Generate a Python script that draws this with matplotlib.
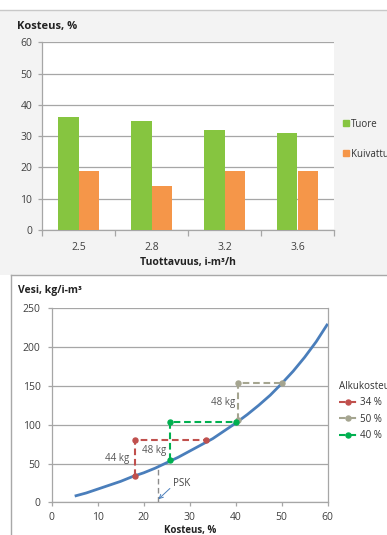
import matplotlib
matplotlib.use("Agg")
import matplotlib.pyplot as plt
from matplotlib.lines import Line2D
from matplotlib.patches import Rectangle

plt.rcParams['font.family'] = ['Open Sans', 'DejaVu Sans']

# ---- data: bar chart (moisture by productivity) ----
categories = ["2.5", "2.8", "3.2", "3.6"]
tuore = [36, 35, 32, 31]
kuivattu = [19, 14, 19, 19]

# ---- data: water content curve ----
curve_x = [5, 7.5, 10, 12.5, 15, 17.5, 20, 22.5, 25, 27.5, 30, 32.5, 35,
           37.5, 40, 42.5, 45, 47.5, 50, 52.5, 55, 57.5, 60]
curve_y = [8, 12, 17, 22, 27, 33, 38, 44, 51, 58, 66, 74, 82,
           92, 102, 113, 125, 138, 153, 169, 187, 207, 230]

# drying steps for each initial moisture
s34_x = [18, 18, 33.5]
s34_y = [34, 80, 80]
s50_x = [40.5, 40.5, 50]
s50_y = [106, 154, 154]
s40_x = [25.8, 25.8, 40]
s40_y = [54, 103, 103]
psk_x = 23
psk_y = 47

W, H = 387, 535
fig = plt.figure(figsize=(W / 100, H / 100), dpi=100)
fig.patch.set_facecolor("white")


def rect(x0, y0, x1, y1):
    return [x0 / W, 1 - y1 / H, (x1 - x0) / W, (y1 - y0) / H]


def fx(px):
    return px / W


def fy(py):
    return 1 - py / H


# panel backgrounds
fig.add_artist(Rectangle((0, fy(275)), 1, fy(10) - fy(275), transform=fig.transFigure,
                         facecolor="#f3f3f3", edgecolor="none", zorder=0))
fig.add_artist(Line2D([0, 1], [fy(10), fy(10)], transform=fig.transFigure,
                      color="#c8c8c8", lw=1.0))
fig.add_artist(Line2D([fx(11), 1], [fy(275), fy(275)], transform=fig.transFigure,
                      color="#a8a8a8", lw=1.0))
fig.add_artist(Line2D([fx(11), fx(11)], [fy(275), 0], transform=fig.transFigure,
                      color="#a8a8a8", lw=1.0))

grid_c = "#a6a6a6"
tick_c = "#404040"
fs = 7.5

# ---------------- top: bar chart ----------------
ax1 = fig.add_axes(rect(42, 42.3, 334, 230))
ax1.set_facecolor("white")
idx = list(range(len(categories)))
bw = 0.28
ax1.bar([i - bw / 2 for i in idx], tuore, width=bw, color="#86c540", zorder=3, label="Tuore")
ax1.bar([i + bw / 2 for i in idx], kuivattu, width=bw, color="#f59649", zorder=3, label="Kuivattu")
ax1.set_xlim(-0.5, 3.5)
ax1.set_ylim(0, 60)
ax1.set_yticks(range(0, 61, 10))
ax1.yaxis.grid(True, color=grid_c, lw=0.9, zorder=0)
ax1.set_xticks([i - 0.5 for i in range(len(categories) + 1)])
ax1.set_xticklabels([""] * (len(categories) + 1))
ax1.set_xticks(idx, minor=True)
ax1.set_xticklabels(categories, minor=True)
ax1.tick_params(axis="x", which="major", length=4, color=grid_c, width=0.9)
ax1.tick_params(axis="x", which="minor", length=0, pad=8.5, labelsize=fs, labelcolor=tick_c)
ax1.tick_params(axis="y", length=3, color=grid_c, width=0.9, labelsize=fs, labelcolor=tick_c, pad=4)
for s in ["top", "right"]:
    ax1.spines[s].set_visible(False)
for s in ["left", "bottom"]:
    ax1.spines[s].set_color(grid_c)
    ax1.spines[s].set_linewidth(0.9)
fig.text(fx(17), fy(26), "Kosteus, %", fontsize=8, fontweight="bold", color="#222222",
         ha="left", va="center")
fig.text(fx(188), fy(262), "Tuottavuus, i-m³/h", fontsize=7.5, fontweight="bold",
         color="#222222", ha="center", va="center")
h1 = [Line2D([], [], marker="s", ls="none", color="#86c540", markersize=4.5),
      Line2D([], [], marker="s", ls="none", color="#f59649", markersize=4.5)]
fig.legend(h1, ["Tuore", "Kuivattu"], loc="upper left",
           bbox_to_anchor=(fx(338), fy(114)), frameon=False, fontsize=7,
           handlelength=0.6, handletextpad=0.2, labelspacing=1.95, borderpad=0,
           labelcolor="#333333")

# ---------------- bottom: water curve ----------------
ax2 = fig.add_axes(rect(51.7, 308.3, 327.7, 502.3))
ax2.set_facecolor("white")
ax2.set_xlim(0, 60)
ax2.set_ylim(0, 250)
ax2.set_xticks(range(0, 61, 10))
ax2.set_yticks(range(0, 251, 50))
ax2.yaxis.grid(True, color=grid_c, lw=0.9, zorder=0)
ax2.tick_params(axis="both", length=3, color=grid_c, width=0.9, labelsize=fs,
                labelcolor=tick_c)
ax2.tick_params(axis="x", pad=4)
ax2.tick_params(axis="y", pad=5)
ax2.spines["top"].set_visible(False)
for s in ["left", "bottom", "right"]:
    ax2.spines[s].set_color(grid_c)
    ax2.spines[s].set_linewidth(0.9)

ax2.plot(curve_x, curve_y, color="#4a7ebb", lw=2.0, zorder=4, solid_capstyle="butt")
ax2.plot([psk_x, psk_x], [0, psk_y], color="#8c8c8c", lw=1.0, ls=(0, (4, 2.5)), zorder=3)

red, grey, green = "#c0504d", "#a5a590", "#00b050"
dash = (0, (3.2, 1.8))
ax2.plot(s34_x, s34_y, color=red, lw=1.5, ls=dash, marker="o", markersize=3.6, zorder=5)
ax2.plot(s50_x, s50_y, color=grey, lw=1.5, ls=dash, marker="o", markersize=3.6, zorder=5)
ax2.plot(s40_x, s40_y, color=green, lw=1.5, ls=dash, marker="o", markersize=3.6, zorder=6)

ax2.text(14.2, 56, "44 kg", fontsize=7, color="#555555", ha="center", va="center")
ax2.text(22.3, 67, "48 kg", fontsize=7, color="#555555", ha="center", va="center")
ax2.text(37.2, 128, "48 kg", fontsize=7, color="#555555", ha="center", va="center")
ax2.annotate("PSK", xy=(23.2, 4), xytext=(26.3, 24), fontsize=7, color="#444444",
             ha="left", va="center",
             arrowprops=dict(arrowstyle="->", color="#4a7ebb", lw=0.7,
                             shrinkA=0, shrinkB=0, relpos=(0, 0.3)))

fig.text(fx(18), fy(290), "Vesi, kg/i-m³", fontsize=7.5, fontweight="bold", color="#222222",
         ha="left", va="center")
fig.text(fx(190), fy(530), "Kosteus, %", fontsize=7, fontweight="bold", color="#222222",
         ha="center", va="center")

h2 = [Line2D([], [], color=red, lw=1.5, ls=dash, marker="o", markersize=3.6),
      Line2D([], [], color=grey, lw=1.5, ls=dash, marker="o", markersize=3.6),
      Line2D([], [], color=green, lw=1.5, ls=dash, marker="o", markersize=3.6)]
leg = fig.legend(h2, ["34 %", "50 %", "40 %"], loc="upper left",
                 bbox_to_anchor=(fx(334), fy(376)), frameon=False, fontsize=7,
                 title="Alkukosteus", title_fontsize=7, alignment="left",
                 handlelength=1.9, handletextpad=0.3, labelspacing=0.55, borderpad=0,
                 labelcolor="#333333")
leg.get_title().set_color("#333333")

fig.savefig("out.png", dpi=100)
